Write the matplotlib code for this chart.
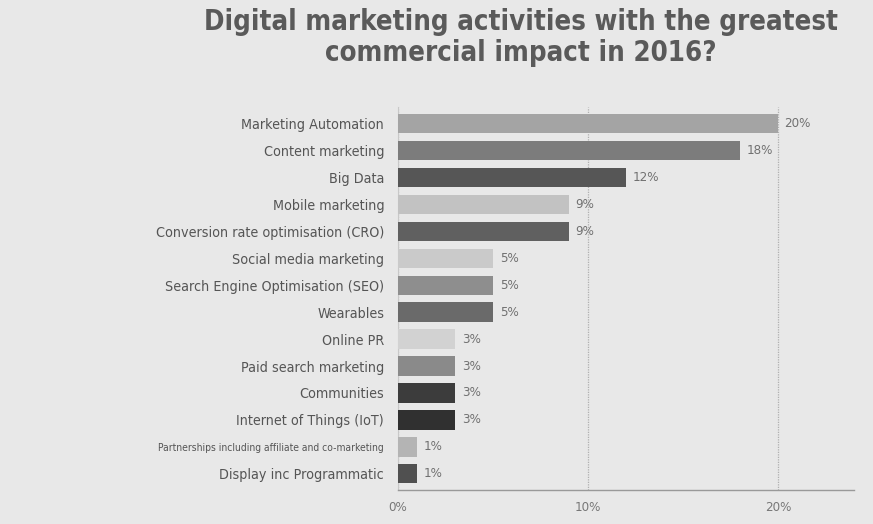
import matplotlib
matplotlib.use("Agg")
import matplotlib.pyplot as plt
from matplotlib import font_manager

categories = [
    "Marketing Automation",
    "Content marketing",
    "Big Data",
    "Mobile marketing",
    "Conversion rate optimisation (CRO)",
    "Social media marketing",
    "Search Engine Optimisation (SEO)",
    "Wearables",
    "Online PR",
    "Paid search marketing",
    "Communities",
    "Internet of Things (IoT)",
    "Partnerships including affiliate and co-marketing",
    "Display inc Programmatic",
]
values = [20, 18, 12, 9, 9, 5, 5, 5, 3, 3, 3, 3, 1, 1]
bar_colors = ["#a4a4a4", "#7c7c7c", "#565656", "#c2c2c2", "#606060", "#cacaca",
              "#8e8e8e", "#6a6a6a", "#d2d2d2", "#8a8a8a", "#3c3c3c", "#303030",
              "#b4b4b4", "#505050"]
x_ticks = [0, 10, 20]
x_tick_labels = ["0%", "10%", "20%"]

# Prefer a condensed face if one is installed
condensed = [f for f in font_manager.fontManager.ttflist
             if f.name == "DejaVu Sans" and f.stretch == "condensed"]
stretch = "condensed" if condensed else "normal"
plt.rcParams["font.family"] = ["DejaVu Sans"]
plt.rcParams["font.stretch"] = stretch

bg = "#e8e8e8"
fig = plt.figure(figsize=(8.73, 5.24), dpi=100, facecolor=bg)
ax = fig.add_axes([0.456, 0.065, 0.522, 0.73], facecolor=bg)

y = list(range(len(categories)))
ax.barh(y, values, height=0.72, color=bar_colors, zorder=3)
for yi, v in zip(y, values):
    ax.text(v + 0.35, yi, f"{v}%", va="center", ha="left", fontsize=9.5,
            color="#707070", zorder=4, fontstretch=stretch)

ax.set_ylim(len(categories) - 0.4, -0.6)
ax.set_xlim(0, 24)
ax.set_yticks(y)
ax.set_yticklabels(categories, fontsize=10.3, color="#555555", fontstretch=stretch)
long_label = ax.get_yticklabels()[categories.index("Partnerships including affiliate and co-marketing")]
long_label.set_fontsize(7.4)
ax.set_xticks(x_ticks)
ax.set_xticklabels(x_tick_labels, fontsize=9.5, color="#777777", fontstretch=stretch)
ax.tick_params(axis="y", length=0, pad=10)
ax.tick_params(axis="x", length=0, pad=8)

ax.grid(axis="x", color="#b0b0b0", linestyle=(0, (1, 1)), linewidth=0.9, zorder=0)
for side in ["top", "right"]:
    ax.spines[side].set_visible(False)
ax.spines["left"].set_color("#c8c8c8")
ax.spines["bottom"].set_color("#999999")
ax.spines["bottom"].set_linewidth(1.0)

fig.text(0.597, 0.929, "Digital marketing activities with the greatest\ncommercial impact in 2016?",
         ha="center", va="center", fontsize=19.8, fontweight="bold", color="#5a5a5a",
         linespacing=1.12, fontstretch=stretch)

fig.savefig("out.png", dpi=100, facecolor=bg)
